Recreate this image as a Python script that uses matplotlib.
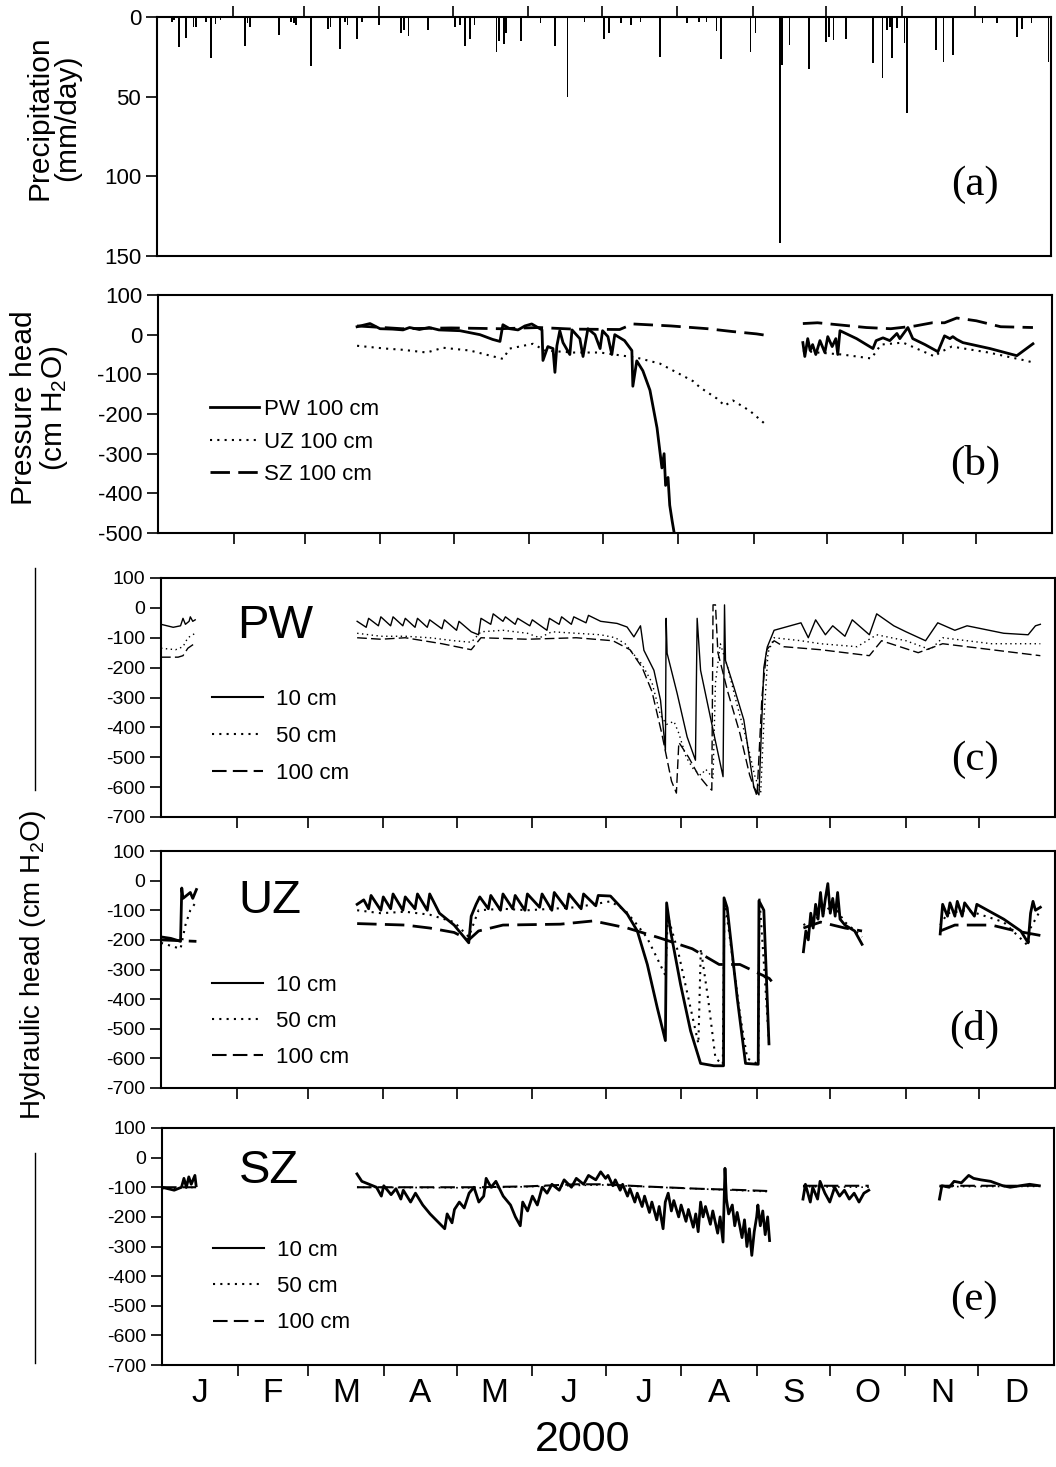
import numpy as np
import matplotlib
matplotlib.use('Agg')
import matplotlib.pyplot as plt
from matplotlib.lines import Line2D

plt.rcParams['font.family'] = ['Liberation Sans', 'DejaVu Sans']
plt.rcParams['axes.unicode_minus'] = False
nan = np.nan

# ---------------- data ----------------
month_starts = [0, 31, 60, 91, 121, 152, 182, 213, 244, 274, 305, 335, 366]
month_labels = ['J', 'F', 'M', 'A', 'M', 'J', 'J', 'A', 'S', 'O', 'N', 'D']

# (a) precipitation, day of year -> mm/day
precip_day = [6, 7, 9, 12, 15, 16, 20, 22, 24, 26,
              36, 37, 38, 50, 55, 56, 57, 63, 70, 71,
              75, 77, 78, 82, 84, 91, 100, 101, 103, 111,
              122, 124, 126, 128, 130, 139, 140, 142, 143, 149,
              157, 163, 168, 175, 183, 185, 190, 194, 198, 206,
              217, 222, 225, 229, 231, 243, 245, 255, 256, 259,
              267, 274, 275, 277, 282, 293, 297, 299, 300, 301,
              303, 306, 307, 319, 322, 326, 338, 344, 352, 354,
              358, 365]
precip_mm = [3, 2, 18.6, 13.4, 6, 6, 3, 26, 4.6, 2,
             18, 4, 6, 11, 3, 4, 5, 30.5, 7.5, 6,
             20, 3, 5, 14, 3, 5, 10, 8, 12, 8,
             6, 5, 18, 14, 5, 22, 15, 17, 10, 15,
             4, 18, 50, 3, 14, 10, 4, 5, 3, 25,
             4, 3, 3, 9, 26.6, 21.8, 10, 142, 30, 17.6,
             32.6, 16, 12.3, 14.4, 13.8, 29, 38.5, 8, 6, 26,
             7, 16.5, 60, 21, 28.5, 24, 4, 4, 12.8, 7.5,
             4, 28]

# (b) pressure head, 100 cm
b_pw_day = [81.5, 86.8, 90.9, 96, 100.3, 103, 107, 111, 115, 123.6,
            131.8, 137, 140, 141.2, 144, 147.4, 150.2, 153, 157.2, 157.6,
            159.6, 161.7, 162.5, 163.3, 164.5, 165.8, 168.6, 169.5, 172.7, 174,
            176, 178.9, 181, 182, 184.2, 185.8, 187, 191, 194, 194.4,
            196, 198.5, 201.4, 204.3, 206.3, 207.2, 207.8, 208.8, 209.5, 210.5,
            211.6, nan,
            264, 264.8, 266, 267, 268, 269.3, 271, 273, 274.2, 276,
            277.5, 278.3, 279.2, 286, 292.7, 294, 296.8, 299.6, 302.5, 303.7,
            307, 309, 314, 319.3, 322, 324.2, 325.4, 327, 329.5, 340.6,
            351.6, 358.2]
b_pw_val = [20, 28, 15, 14, 12, 18, 13, 18, 12, 10,
            0, -12, -17, 25, 15, 12, 22, 27, 12, -65,
            -30, -35, -95, -28, 10, -20, -50, 12, -10, -55,
            15, 0, -35, 10, -5, -50, 0, -15, -40, -130,
            -66, -91, -140, -235, -336, -300, -380, -360, -430, -470,
            -510, nan,
            -20, -55, -10, -40, -25, -50, -15, -45, -5, -30,
            -10, -50, 10, -10, -35, -15, -8, -15, 3, -10,
            18, -10, -25, -43, -3, -10, -5, -12, -20, -35,
            -53, -23]
b_uz_day = [81.5, 93, 100, 110, 116.7, 127.7, 141.2, 144, 153.5, 158.4,
            170, 181, 196, 205.5, 219, 221.9, 228.8, 232, 235.4, 242.3,
            248.5, nan,
            264, 270, 280, 292, 296, 305, 318, 320, 325, 340,
            355, 358.2]
b_uz_val = [-28, -35, -38, -45, -33, -40, -61, -35, -23, -40,
            -45, -45, -58, -73, -117, -133, -161, -179, -166, -192,
            -225, nan,
            -40, -45, -50, -60, -25, -20, -55, -45, -30, -45,
            -65, -70]
b_sz_day = [81.5, 100, 120, 140, 156, 170, 189, 194.4, 210, 225,
            235, 245, 249.3, nan,
            264, 270, 290, 300, 310, 317, 322, 327, 335, 345,
            358.2]
b_sz_val = [22, 15, 17, 15, 18, 14, 13, 27, 22, 15,
            8, 2, -2, nan,
            28, 30, 18, 15, 22, 30, 30, 42, 35, 20,
            18]

# (c) PW hydraulic head
c10_day = [0, 5, 8, 9, 10, 11.5, 12, 13, 14, nan,
           80.3, 84, 85, 89, 90, 94, 95, 99, 100, 104,
           105, 109, 110, 115, 116, 121, 122, 127, 130, 131,
           135, 136, 140, 141, 145, 146, 151, 152, 158, 159,
           163, 164, 168, 169, 174, 175, 180, 186.7, 190.8, 193.6,
           196.3, 197.7, 201.8, 204.5, 206.5, 206.8, 207.2, 211.3, 215.4, 218.8,
           219.5, 220.9, 226.3, 230.1, 230.7, 231.1, 234.5, 238.6, 242.7, 244.8,
           246.8, 248.2, 251, 262, 265, 268, 272, 275, 280, 283,
           290, 293, 300, 305, 313, 318, 325, 330, 345, 355,
           358, 360]
c10_val = [-55, -65, -60, -35, -55, -45, -30, -45, -40, nan,
           -45, -65, -35, -60, -30, -60, -30, -60, -35, -65,
           -35, -65, -40, -70, -40, -75, -45, -80, -90, -35,
           -55, -20, -45, -30, -55, -35, -60, -40, -75, -35,
           -55, -30, -55, -30, -50, -25, -45, -52, -64, -97,
           -60, -142, -209, -309, -476, -35, -152, -286, -432, -510,
           -35, -209, -420, -565, 10, -176, -264, -375, -600, -626,
           -200, -131, -75, -50, -100, -40, -90, -60, -95, -40,
           -90, -20, -60, -80, -110, -50, -75, -60, -85, -90,
           -60, -55]
c50_day = [0, 6, 9, 11, 14, nan,
           80.3, 90, 100, 110, 120, 127, 131, 140, 150, 155,
           160, 170, 180, 186, 190, 193, 197, 201, 204.5, 207,
           210, 212, 215, 218, 221, 223, 226, 227, 229, 232,
           236, 240, 243, 245.5, 247, 248.5, 251, 262, 270, 285,
           293, 305, 315, 320, 340, 360]
c50_val = [-135, -140, -130, -100, -85, nan,
           -85, -95, -95, -100, -110, -115, -80, -75, -85, -100,
           -80, -85, -90, -100, -120, -150, -190, -250, -360, -390,
           -380, -420, -500, -540, -560, -540, -570, -250, -120, -200,
           -330, -450, -560, -620, -350, -150, -100, -110, -120, -130,
           -90, -110, -140, -100, -120, -120]
c100_day = [0, 7, 9, 11, 14, nan,
            80.3, 90, 100, 115, 127, 131, 150, 170, 185, 192,
            197, 201, 205, 209, 211, 212, 216, 220, 224, 225.5,
            226, 227, 228, 232, 237, 241, 244, 246, 248, 251,
            255, 270, 290, 295, 310, 320, 340, 360]
c100_val = [-165, -165, -160, -135, -118, nan,
            -100, -105, -100, -120, -140, -100, -105, -100, -110, -140,
            -200, -280, -420, -580, -620, -450, -500, -560, -600, -610,
            10, 10, -150, -280, -420, -560, -630, -300, -140, -110,
            -130, -140, -160, -110, -150, -120, -140, -160]

# (d) UZ hydraulic head
d10_day = [0, 4, 8, 8.5, 9, 12, 13, 14.5, nan,
           80.3, 83, 85, 86, 90, 91, 94, 95, 99, 100,
           104, 105, 109, 110, 114, 120, 126, 127, 129, 130.5,
           134, 135, 139, 140, 144, 145, 149, 150, 155, 156,
           160, 161, 166, 167, 172, 173, 178, 179, 184, 190.9,
           195, 199.1, 203.2, 206.5, 207, 208.6, 212.7, 216.8, 220.9, 226.4,
           230.3, 230.5, 231.8, 235.9, 239.3, 244.5, 244.8, 246.8, 248.9, nan,
           263, 264, 265, 266, 267, 268, 269, 270, 271, 272,
           273, 274, 275, 276, 277, 278, 280, 282, 284, 286,
           287, nan,
           319, 320, 322, 323, 325, 326, 328, 329, 333, 334,
           345, 352, 355, 356, 357, 358, 360]
d10_val = [-190, -195, -205, -25, -60, -40, -60, -30, nan,
           -80, -65, -95, -50, -100, -55, -95, -45, -100, -55,
           -95, -45, -100, -45, -110, -150, -210, -120, -80, -55,
           -95, -50, -100, -45, -95, -50, -100, -45, -90, -45,
           -100, -40, -95, -45, -95, -45, -85, -50, -52, -113,
           -170, -283, -430, -540, -75, -170, -350, -507, -617, -625,
           -625, -58, -92, -396, -617, -620, -68, -100, -551, nan,
           -240, -170, -200, -110, -160, -80, -130, -40, -120, -60,
           -10, -110, -60, -120, -40, -130, -150, -160, -170, -200,
           -215, nan,
           -180, -80, -120, -75, -120, -70, -120, -75, -120, -80,
           -130, -170, -210, -110, -70, -100, -90]
d50_day = [0, 8, 10, 12, 14.5, nan,
           80.3, 90, 100, 110, 120, 126, 130, 140, 150, 160,
           170, 184, 190, 195, 199, 203, 206.5, 207.5, 212, 216,
           220, 221, 224, 227, 230, 230.7, 233, 237, 240, 244.5,
           245, 247, 249, nan,
           263, 270, 275, 280, 287, nan,
           319, 322, 330, 345, 355, 356, 360]
d50_val = [-210, -230, -150, -100, -70, nan,
           -100, -110, -105, -115, -140, -190, -100, -95, -100, -95,
           -90, -70, -100, -150, -193, -260, -320, -120, -250, -400,
           -550, -230, -400, -600, -620, -60, -200, -450, -600, -620,
           -60, -300, -560, nan,
           -150, -120, -80, -140, -190, nan,
           -150, -110, -100, -140, -220, -160, -100]
d100_day = [0, 14.5, nan,
            80.3, 100, 110, 120, 126, 130, 140, 163.5, 177, 190.9,
            204, 217.5, 228.5, 237, 249, 250, nan,
            263, 270, 280, 287, nan,
            319, 325, 340, 350, 360]
d100_val = [-200, -205, nan,
            -145, -150, -160, -175, -200, -170, -150, -147, -136, -160,
            -193, -230, -283, -283, -330, -340, nan,
            -160, -140, -160, -170, nan,
            -170, -150, -150, -170, -185]

# (e) SZ hydraulic head
e10_day = [0, 5, 8, 9, 10, 11, 12, 13.5, 14, nan,
           80, 82, 85, 88, 90, 91, 94, 96, 98, 99,
           102, 104, 107, 110, 113, 116, 117, 119, 120, 122,
           124, 126, 128, 130, 132, 133, 135, 137, 140, 143,
           145, 147, 148, 150, 152, 154, 156, 158, 160, 163,
           165, 168, 170, 173, 175, 178, 180, 182, 183, 185,
           186, 188, 189, 191, 192, 194, 195, 197, 198, 200,
           201, 203, 204, 205.6, 206.5, 207.7, 209, 210, 212, 213,
           215, 216, 218, 219, 220, 221, 222, 223, 225, 226,
           228, 229, 230.2, 231, 231.6, 232.5, 234, 235, 236, 238,
           239, 240, 241, 242, 243, 244, 244.5, 245.5, 246.5, 247.5,
           248.5, 249.3, nan,
           263, 264, 266, 267, 269, 270, 272, 274, 276, 278,
           280, 282, 284, 286, 288, 290, nan,
           319, 320, 323, 325, 328, 331, 333, 336, 340, 345,
           348, 352, 356, 360]
e10_val = [-100, -110, -100, -70, -100, -65, -90, -60, -95, nan,
           -55, -80, -90, -100, -130, -95, -125, -105, -140, -110,
           -150, -120, -160, -190, -215, -240, -190, -220, -175, -150,
           -170, -120, -100, -150, -130, -70, -100, -80, -130, -160,
           -200, -230, -150, -180, -130, -160, -100, -120, -90, -110,
           -75, -100, -70, -90, -60, -75, -48, -70, -60, -95,
           -75, -110, -90, -130, -105, -150, -120, -165, -130, -185,
           -150, -210, -165, -240, -150, -120, -180, -145, -200, -160,
           -215, -175, -235, -190, -250, -150, -200, -165, -225, -180,
           -255, -200, -285, -36, -140, -190, -160, -230, -185, -270,
           -210, -300, -240, -330, -250, -200, -160, -230, -180, -260,
           -200, -280, nan,
           -140, -90, -150, -100, -140, -80, -120, -150, -100, -130,
           -110, -140, -120, -150, -120, -110, nan,
           -140, -95, -100, -80, -85, -60, -70, -75, -80, -95,
           -100, -95, -90, -95]
e50_day = [0, 14, nan, 80, 130, 180, 249.3, nan, 263, 290, nan, 319, 360]
e50_val = [-105, -100, nan, -100, -102, -92, -115, nan, -98, -100, nan, -98, -97]
e100_day = [0, 14, nan, 80, 100, 130, 150, 170, 180, 200, 220, 240, 249.3, nan,
            263, 290, nan, 319, 360]
e100_val = [-100, -100, nan, -100, -100, -100, -97, -90, -90, -98, -105, -110, -113, nan,
            -95, -95, nan, -95, -95]

# ---------------- figure ----------------
W, H = 1056, 1467
fig = plt.figure(figsize=(W / 100, H / 100), dpi=100)


def axes_px(left, top, right, bottom):
    return fig.add_axes([left / W, 1 - bottom / H, (right - left) / W, (bottom - top) / H])


axa = axes_px(157, 17, 1051, 256)
axb = axes_px(158, 295, 1052, 533)
axc = axes_px(161, 578, 1055, 817)
axd = axes_px(161, 851, 1055, 1088)
axe = axes_px(162, 1128, 1054, 1365)

for ax in (axa, axb, axc, axd, axe):
    ax.set_xlim(0, 366)
    for s in ax.spines.values():
        s.set_linewidth(1.5)
    ax.tick_params(axis='both', direction='out', length=8, width=1.2, colors='black')

# (a)
axa.bar(precip_day, precip_mm, width=0.7, color='black', align='center')
axa.set_ylim(150, 0)
axa.set_yticks([0, 50, 100, 150])
axa.xaxis.tick_top()
axa.set_xticks(month_starts[1:-1])
axa.tick_params(axis='x', labeltop=False, labelbottom=False)
axa.tick_params(axis='y', labelsize=16)
axa.text(0.915, 0.30, '(a)', transform=axa.transAxes, ha='center', va='center',
         fontsize=31, family=['Liberation Serif'])
fig.text(53 / W, 1 - 118 / H, 'Precipitation\n(mm/day)', rotation=90, ha='center',
         va='center', fontsize=21.5, linespacing=1.0)

# (b)
axb.plot(b_pw_day, b_pw_val, color='black', lw=2.0, label='PW 100 cm')
axb.plot(b_uz_day, b_uz_val, color='black', lw=1.5, ls=(0, (1, 2.5)), label='UZ 100 cm')
axb.plot(b_sz_day, b_sz_val, color='black', lw=2.0, ls=(0, (7, 3)), label='SZ 100 cm')
axb.set_ylim(-500, 100)
axb.set_yticks(range(-500, 101, 100))
axb.set_xticks(month_starts[1:-1])
axb.tick_params(axis='x', labelbottom=False)
axb.tick_params(axis='y', labelsize=16)
axb.text(0.914, 0.286, '(b)', transform=axb.transAxes, ha='center', va='center',
         fontsize=31, family=['Liberation Serif'])
axb.legend(loc='upper left', bbox_to_anchor=(0.058, 0.563), frameon=False, fontsize=16,
           handlelength=2.2, handletextpad=0.25, labelspacing=0.52, borderaxespad=0,
           borderpad=0)
fig.text(40 / W, 1 - 408 / H, 'Pressure head\n(cm H$\\mathregular{_2}$O)', rotation=90,
         ha='center', va='center', fontsize=21.5, linespacing=1.0)


def hh_panel(ax, series, tag, tag_xy, letter, leg_xy, lws, lsp):
    styles = ['-', (0, (1, 2.5)), (0, (7, 3))]
    labels = ['10 cm', '50 cm', '100 cm']
    for (dd, vv), st, lab, lw in zip(series, styles, labels, lws):
        ax.plot(dd, vv, color='black', lw=lw, ls=st, label=lab)
    ax.set_ylim(-700, 100)
    ax.set_yticks(range(-700, 101, 100))
    ax.set_xticks(month_starts[1:-1])
    ax.tick_params(axis='x', labelbottom=False)
    ax.tick_params(axis='y', labelsize=14)
    ax.text(tag_xy[0], tag_xy[1], tag, transform=ax.transAxes, ha='center', va='center',
            fontsize=34)
    ax.text(0.91, letter[1], letter[0], transform=ax.transAxes, ha='center', va='center',
            fontsize=31, family=['Liberation Serif'])
    leg = ax.legend(loc='upper left', bbox_to_anchor=leg_xy, frameon=False, fontsize=16,
                    handlelength=2.3, handletextpad=0.6, labelspacing=lsp,
                    borderaxespad=0, borderpad=0)
    for h in leg.get_lines():
        h.set_linewidth(1.5)


hh_panel(axc, [(c10_day, c10_val), (c50_day, c50_val), (c100_day, c100_val)],
         'PW', (0.128, 0.80), ('(c)', 0.24), (0.057, 0.536), [1.0, 1.0, 1.0], 0.72)
hh_panel(axd, [(d10_day, d10_val), (d50_day, d50_val), (d100_day, d100_val)],
         'UZ', (0.122, 0.79), ('(d)', 0.245), (0.057, 0.477), [2.0, 1.5, 2.0], 0.68)
hh_panel(axe, [(e10_day, e10_val), (e50_day, e50_val), (e100_day, e100_val)],
         'SZ', (0.12, 0.82), ('(e)', 0.274), (0.057, 0.527), [2.0, 1.2, 1.5], 0.68)

# month letters under (e)
mids = [(month_starts[i] + month_starts[i + 1]) / 2 for i in range(12)]
axe.set_xticks(mids, minor=True)
axe.set_xticklabels(month_labels, minor=True)
axe.tick_params(axis='x', which='minor', length=0, labelsize=24, pad=9)

fig.text(583 / W, 1 - 1440 / H, '2000', ha='center', va='center', fontsize=31)

# Hydraulic head label with bracket lines
fig.text(33 / W, 1 - 965 / H, 'Hydraulic head (cm H$\\mathregular{_2}$O)', rotation=90,
         ha='center', va='center', fontsize=20)
fig.add_artist(Line2D([35 / W, 35 / W], [1 - 568 / H, 1 - 790 / H], color='black', lw=1))
fig.add_artist(Line2D([35 / W, 35 / W], [1 - 1153 / H, 1 - 1363 / H], color='black', lw=1))

fig.savefig('out.png', dpi=100)
